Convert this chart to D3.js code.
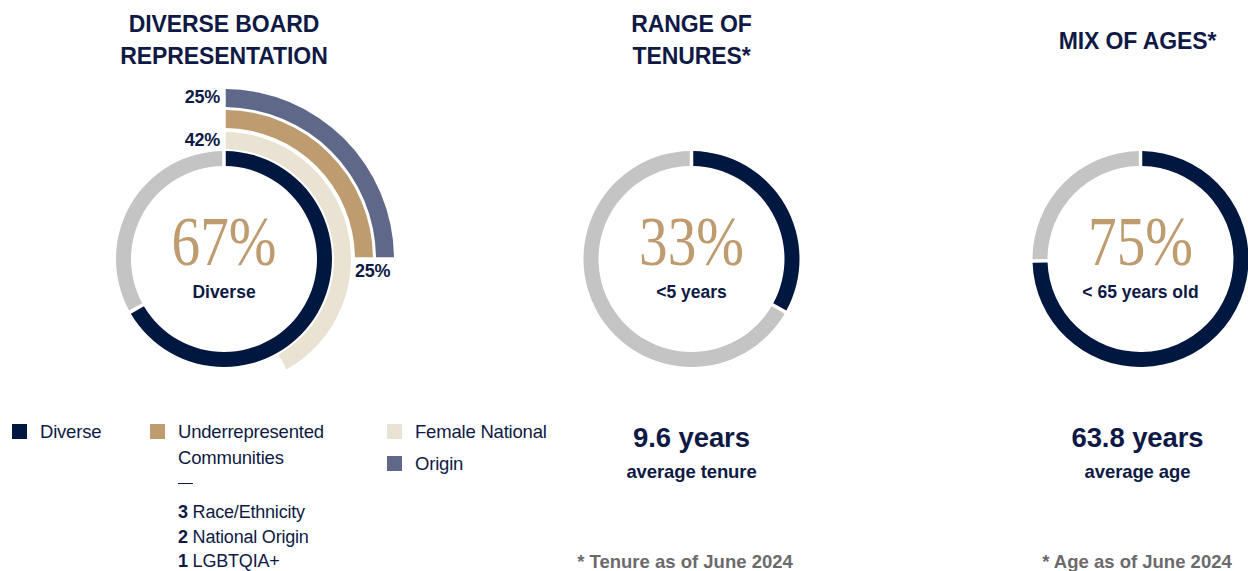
<!DOCTYPE html>
<html>
<head>
<meta charset="utf-8">
<script src="https://cdn.jsdelivr.net/npm/d3@7"></script>
<style>
  body { margin: 0; background: #fff; }
  svg { display: block; }
</style>
</head>
<body>
<svg id="grafico" width="1248" height="571"></svg>
<script>
// ---- data ----
const boardSeries = ["Diverse", "Female National", "Underrepresented Communities", "Origin"];
const boardValues = [67, 42, 25, 25];
const tenureValues = [33, 67];
const ageValues = [75, 25];
const centerLabels = ["67%", "33%", "75%"];
const centerCaptions = ["Diverse", "<5 years", "< 65 years old"];
const titles = [["DIVERSE BOARD", "REPRESENTATION"], ["RANGE OF", "TENURES*"], ["MIX OF AGES*"]];
const averages = ["9.6 years", "63.8 years"];
const averageCaptions = ["average tenure", "average age"];
const footnotes = ["* Tenure as of June 2024", "* Age as of June 2024"];
const legendLabels = [["Diverse"], ["Underrepresented", "Communities"], ["Female National"], ["Origin"]];
const breakdownCounts = ["3", "2", "1"];
const breakdownLabels = ["Race/Ethnicity", "National Origin", "LGBTQIA+"];

const NAVY = "#00173f", TEXT = "#0e1a45", TAN = "#bf9c6f", BEIGE = "#eae2d3",
      SLATE = "#5f6888", GREY = "#c4c4c4";
const SANS = "'Liberation Sans', Arial, sans-serif";
const SERIF = "'Liberation Serif', 'Times New Roman', serif";

const svg = d3.select("#grafico");
svg.append("rect").attr("width", 1248).attr("height", 571).attr("fill", "#fff");

const angle = d3.scaleLinear().domain([0, 100]).range([0, 2 * Math.PI]);
const pad = 0.035, padR = 100;
const cy = 259;
const centers = [224, 691.5, 1140.5];

// titles
const titleY = [[31.7, 64], [31.7, 64], [49]];
titles.forEach((lines, i) => {
  lines.forEach((t, j) => {
    svg.append("text")
      .attr("x", centers[i] + (i === 2 ? -3 : 0)).attr("y", titleY[i][j])
      .attr("text-anchor", "middle")
      .attr("font-family", SANS).attr("font-weight", "bold")
      .attr("font-size", 23).attr("letter-spacing", -0.1)
      .attr("fill", TEXT).text(t);
  });
});

// ---- simple donuts (inner ring of all three) ----
function donut(cx, values, colors) {
  const g = svg.append("g").attr("transform", `translate(${cx},${cy})`);
  const pie = d3.pie().sort(null).padAngle(pad)(values);
  const arc = d3.arc().innerRadius(93).outerRadius(108).padRadius(padR);
  g.selectAll("path").data(pie).enter().append("path")
    .attr("d", arc).attr("fill", (d, i) => colors[i]);
  return g;
}

const g0 = donut(centers[0], [boardValues[0], 100 - boardValues[0]], [NAVY, GREY]);
donut(centers[1], tenureValues, [NAVY, GREY]);
donut(centers[2], ageValues, [NAVY, GREY]);

// ---- outer rings of the board chart ----
const ringRadii = [[110, 127], [131, 149], [152, 170]];
const ringColors = [BEIGE, TAN, SLATE];
boardValues.slice(1).forEach((v, i) => {
  const arc = d3.arc()
    .innerRadius(ringRadii[i][0]).outerRadius(ringRadii[i][1])
    .startAngle(angle(0)).endAngle(angle(v))
    .padAngle(pad).padRadius(padR);
  g0.append("path").attr("d", arc()).attr("fill", ringColors[i]);
});

function pctLabel(g, x, y, anchor, txt) {
  g.append("text").attr("x", x).attr("y", y).attr("text-anchor", anchor)
    .attr("font-family", SANS).attr("font-weight", "bold").attr("font-size", 18)
    .attr("letter-spacing", -0.3).attr("fill", TEXT).text(txt);
}
// slate label at its start, beige label at its start, tan label at its end
pctLabel(g0, -4, -ringRadii[2][1] + 13.5, "end", boardValues[3] + "%");
pctLabel(g0, -4, -ringRadii[0][1] + 13.5, "end", boardValues[1] + "%");
pctLabel(g0, ringRadii[1][0], 18, "start", boardValues[2] + "%");

// ---- center labels ----
centers.forEach((cx, i) => {
  svg.append("text")
    .attr("x", cx).attr("y", cy + 6).attr("text-anchor", "middle")
    .attr("font-family", SERIF).attr("font-size", 70)
    .attr("textLength", 105).attr("lengthAdjust", "spacingAndGlyphs")
    .attr("fill", TAN).text(centerLabels[i]);
  svg.append("text")
    .attr("x", cx).attr("y", cy + 38.5).attr("text-anchor", "middle")
    .attr("font-family", SANS).attr("font-weight", "bold").attr("font-size", 17.5)
    .attr("letter-spacing", 0).attr("fill", TEXT).text(centerCaptions[i]);
});

// ---- averages ----
[centers[1], centers[2] - 3].forEach((cx, i) => {
  svg.append("text")
    .attr("x", cx).attr("y", 447).attr("text-anchor", "middle")
    .attr("font-family", SANS).attr("font-weight", "bold").attr("font-size", 27.5)
    .attr("letter-spacing", -0.1).attr("fill", TEXT).text(averages[i]);
  svg.append("text")
    .attr("x", cx).attr("y", 478).attr("text-anchor", "middle")
    .attr("font-family", SANS).attr("font-weight", "bold").attr("font-size", 18.5)
    .attr("letter-spacing", -0.1).attr("fill", TEXT).text(averageCaptions[i]);
});

// ---- footnotes ----
[685, 1137].forEach((cx, i) => {
  svg.append("text")
    .attr("x", cx).attr("y", 568).attr("text-anchor", "middle")
    .attr("font-family", SANS).attr("font-weight", "bold").attr("font-size", 18.5)
    .attr("letter-spacing", 0).attr("fill", "#6b6b6b").text(footnotes[i]);
});

// ---- legend ----
const legendPos = [[12, 424], [150, 424], [387, 424], [387, 456]];
const legendColors = [NAVY, TAN, BEIGE, SLATE];
legendLabels.forEach((lines, i) => {
  const [x, y] = legendPos[i];
  svg.append("rect").attr("x", x).attr("y", y).attr("width", 15).attr("height", 15)
    .attr("fill", legendColors[i]);
  lines.forEach((t, j) => {
    svg.append("text").attr("x", x + 28).attr("y", y + 14 + j * 26)
      .attr("font-family", SANS).attr("font-size", 18.5).attr("letter-spacing", -0.2)
      .attr("fill", TEXT).text(t);
  });
});
svg.append("line").attr("x1", 178).attr("x2", 193).attr("y1", 483.5).attr("y2", 483.5)
  .attr("stroke", TEXT).attr("stroke-width", 1);
breakdownLabels.forEach((t, i) => {
  const txt = svg.append("text").attr("x", 178).attr("y", 518 + i * 24.5)
    .attr("font-family", SANS).attr("font-size", 18).attr("letter-spacing", -0.2)
    .attr("fill", TEXT);
  txt.append("tspan").attr("font-weight", "bold").text(breakdownCounts[i]);
  txt.append("tspan").text(" " + t);
});
</script>
</body>
</html>
